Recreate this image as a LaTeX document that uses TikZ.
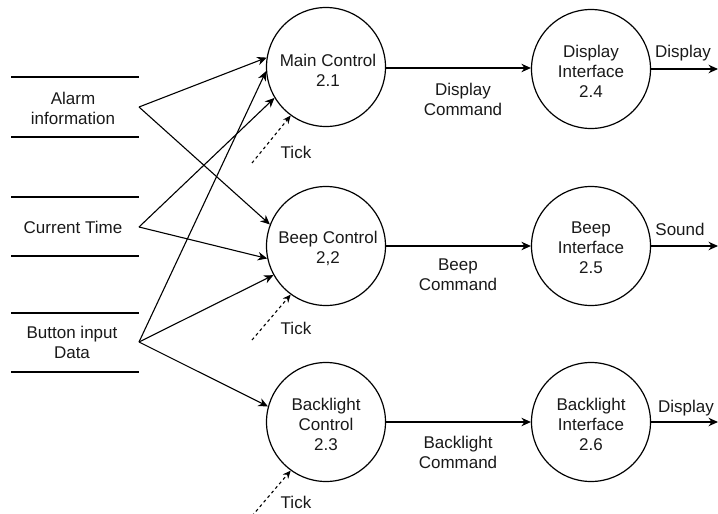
\documentclass[tikz,border=0pt]{standalone}
\usepackage{fontspec}
\setmainfont{Liberation Sans}
\usetikzlibrary{arrows.meta}
\begin{document}
\begin{tikzpicture}[x=1pt,y=-1pt,
  every node/.style={font=\fontsize{17}{20}\selectfont, text=black!90, align=center},
  proc/.style={draw, circle, line width=1.2pt, minimum size=119pt, inner sep=0pt, text depth=0pt},
  flow/.style={line width=1.1pt, -{Stealth[length=9.5pt,width=8.5pt]}},
  tickflow/.style={line width=1.1pt, dash pattern=on 3pt off 3pt, -{Stealth[length=8pt,width=7pt]}},
  storeline/.style={line width=2.5pt},
  lbl/.style={inner sep=1pt}]
\useasboundingbox (0,0) rectangle (718,514);

% data stores
\draw[storeline] (11,77) -- (139,77);
\draw[storeline] (11,137) -- (139,137);
\node[lbl] (alarm) at (73,108) {Alarm\\information};
\coordinate (alarmo) at (139,107);
\draw[storeline] (11,197) -- (139,197);
\draw[storeline] (11,256) -- (139,256);
\node[lbl] (ctime) at (73,227) {Current Time};
\coordinate (ctimeo) at (139,227);
\draw[storeline] (11,313) -- (139,313);
\draw[storeline] (11,372) -- (139,372);
\node[lbl] (button) at (72,342) {Button input\\Data};
\coordinate (buttono) at (139,342);

% processes
\node[proc] (main) at (326,67) {};
\node[proc] (beep) at (326,246) {};
\node[proc] (back) at (326,422) {};
\node[proc] (disp) at (591,69) {};
\node[proc] (beepi) at (591,246) {};
\node[proc] (backi) at (591,422) {};
\node[lbl] (mainl) at (328,70) {Main Control\\2.1};
\node[lbl] (beepl) at (328,248) {Beep Control\\2,2};
\node[lbl] (backl) at (326,424) {Backlight\\Control\\2.3};
\node[lbl] (displ) at (591,71) {Display\\Interface\\2.4};
\node[lbl] (beepil) at (591,248) {Beep\\Interface\\2.5};
\node[lbl] (backil) at (591,424) {Backlight\\Interface\\2.6};

% inputs
\draw[flow] (alarmo) -- (main.171);
\draw[flow] (alarmo) -- (beep.159);
\draw[flow] (ctimeo) -- (main.211);
\draw[flow] (ctimeo) -- (beep.192);
\draw[flow] (buttono) -- (main.184);
\draw[flow] (buttono) -- (beep.209);
\draw[flow] (buttono) -- (back.165);

% ticks
\coordinate (t1) at (252,163);
\coordinate (t2) at (252,340);
\coordinate (t3) at (252,516);
\draw[tickflow] (t1) -- (main.234);
\draw[tickflow] (t2) -- (beep.234);
\draw[tickflow] (t3) -- (back.234);
\node[lbl] (tk1) at (296,152) {Tick};
\node[lbl] (tk2) at (296,328) {Tick};
\node[lbl] (tk3) at (296,502) {Tick};

% commands
\draw[flow] (main.east |- 0,68) -- (disp.west |- 0,68);
\draw[flow] (beep) -- (beepi);
\draw[flow] (back) -- (backi);
\node[lbl] (dc) at (463,99) {Display\\Command};
\node[lbl] (bc) at (458,275) {Beep\\Command};
\node[lbl] (blc) at (458,452) {Backlight\\Command};

% outputs
\coordinate (o1) at (718,69);
\coordinate (o2) at (718,246);
\coordinate (o3) at (718,422);
\draw[flow] (disp) -- (o1);
\draw[flow] (beepi) -- (o2);
\draw[flow] (backi) -- (o3);
\node[lbl] (od) at (683,53) {Display};
\node[lbl] (os) at (680,229) {Sound};
\node[lbl] (ob) at (686,408) {Display};
\end{tikzpicture}
\end{document}
